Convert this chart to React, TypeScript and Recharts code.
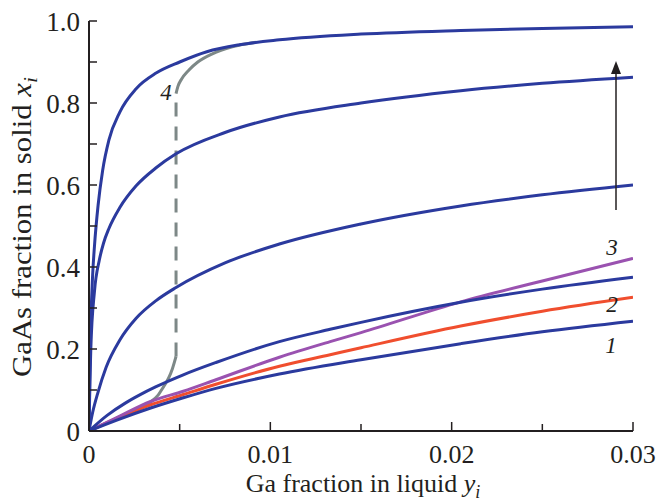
import React from 'react';
import { LineChart, Line, XAxis, YAxis } from 'recharts';

const INK = '#231f20';
const BLUE = '#2b3a9e';
const RED = '#f04e2e';
const PURPLE = '#9a52b0';
const GRAY = '#7d8887';
const FONT = 'Liberation Serif, Times New Roman, Times, serif';

const xTicks = [0, 0.005, 0.01, 0.015, 0.02, 0.025, 0.03];
const xTickLabels = ['0', '', '0.01', '', '0.02', '', '0.03'];
const yTicks = [0, 0.1, 0.2, 0.3, 0.4, 0.5, 0.6, 0.7, 0.8, 0.9, 1.0];
const yTickLabels = ['0', '', '0.2', '', '0.4', '', '0.6', '', '0.8', '', '1.0'];

// blue family, bottom to top (curve 1 is the lowest)
const curve1: [number, number][] = [
  [0, 0], [0.0015, 0.026], [0.0034, 0.056], [0.0052, 0.081], [0.007, 0.104],
  [0.0105, 0.139], [0.015, 0.174], [0.0205, 0.213], [0.025, 0.242], [0.03, 0.268],
];
const blue2: [number, number][] = [
  [0, 0], [0.001, 0.038], [0.002, 0.068], [0.0028, 0.088], [0.0037, 0.108],
  [0.0052, 0.137], [0.007, 0.167], [0.0105, 0.218], [0.0133, 0.248], [0.015, 0.265],
  [0.0205, 0.314], [0.025, 0.346], [0.03, 0.375],
];
const blue3: [number, number][] = [
  [0, 0], [0.0002, 0.045], [0.0005, 0.095], [0.00094, 0.155], [0.0017, 0.222],
  [0.0026, 0.275], [0.0037, 0.318], [0.0048, 0.35], [0.0075, 0.41], [0.0105, 0.456],
  [0.015, 0.505], [0.0205, 0.549], [0.025, 0.576], [0.03, 0.6],
];
const blue4: [number, number][] = [
  [0, 0], [0.00005, 0.12], [0.0001, 0.2], [0.0003, 0.34], [0.00057, 0.417],
  [0.0008, 0.458], [0.0011, 0.494], [0.0017, 0.545], [0.0026, 0.598], [0.0037, 0.642],
  [0.0048, 0.676], [0.0075, 0.728], [0.0105, 0.766], [0.015, 0.8], [0.0205, 0.83],
  [0.025, 0.848], [0.03, 0.863],
];
const blue5: [number, number][] = [
  [0, 0], [0.00005, 0.15], [0.0001, 0.26], [0.0002, 0.38], [0.0003, 0.45],
  [0.0005, 0.55], [0.00075, 0.635], [0.0011, 0.71], [0.0017, 0.778], [0.0026, 0.835],
  [0.0037, 0.873], [0.005, 0.9], [0.0065, 0.925], [0.0083, 0.942], [0.0105, 0.954],
  [0.015, 0.968], [0.0205, 0.977], [0.025, 0.982], [0.03, 0.986],
];
const curve2: [number, number][] = [
  [0, 0], [0.0015, 0.03], [0.0034, 0.064], [0.0052, 0.089], [0.007, 0.114],
  [0.0105, 0.158], [0.0133, 0.186], [0.015, 0.203], [0.0205, 0.256], [0.025, 0.292],
  [0.03, 0.326],
];
const curve3: [number, number][] = [
  [0, 0], [0.0015, 0.032], [0.0034, 0.072], [0.0052, 0.097], [0.007, 0.125],
  [0.0105, 0.18], [0.0133, 0.218], [0.015, 0.24], [0.0205, 0.315], [0.025, 0.366],
  [0.03, 0.421],
];
const curve4Low: [number, number][] = [
  [0, 0], [0.001, 0.02], [0.002, 0.041], [0.0028, 0.056], [0.0034, 0.071],
  [0.0038, 0.087], [0.0041, 0.107], [0.0044, 0.13], [0.0046, 0.152], [0.0048, 0.182],
];
const curve4Jump: [number, number][] = [[0.0048, 0.182], [0.0048, 0.823]];
const curve4High: [number, number][] = [
  [0.0048, 0.823], [0.0049, 0.84], [0.0051, 0.858], [0.0055, 0.88], [0.006, 0.9],
  [0.0068, 0.92], [0.0079, 0.937], [0.0092, 0.948],
];

const pts = (c: [number, number][]) => c.map(([x, y]) => ({ x, y }));

function BottomTick({ x, y, payload }: any) {
  const label = xTickLabels[xTicks.indexOf(payload.value)];
  return (
    <g>
      <line x1={x} x2={x} y1={y} y2={y - (label ? 9 : 7)} stroke={INK} strokeWidth={1.5} />
      {label && (
        <text x={x} y={y + 32} textAnchor="middle" fontSize={26} fontFamily={FONT} fill={INK}>
          {label}
        </text>
      )}
    </g>
  );
}

function TopTick({ x, y, payload }: any) {
  const major = xTickLabels[xTicks.indexOf(payload.value)] !== '';
  return <line x1={x} x2={x} y1={y} y2={y + (major ? 9 : 7)} stroke={INK} strokeWidth={1.5} />;
}

function LeftTick({ x, y, payload }: any) {
  const label = yTickLabels[yTicks.indexOf(payload.value)];
  return (
    <g>
      <line x1={x} x2={x + 8} y1={y} y2={y} stroke={INK} strokeWidth={1.5} />
      {label && (
        <text x={x - 9} y={y} dy="0.36em" textAnchor="end" fontSize={27} fontFamily={FONT} fill={INK}>
          {label}
        </text>
      )}
    </g>
  );
}

function RightTick({ x, y }: any) {
  return <line x1={x} x2={x - 8} y1={y} y2={y} stroke={INK} strokeWidth={1.5} />;
}

export default function App() {
  const lineProps = { type: 'monotone' as const, dataKey: 'y', dot: false, activeDot: false, isAnimationActive: false, strokeWidth: 3 };
  return (
    <div style={{ position: 'absolute', left: 0, top: 0, width: 660, height: 502, background: '#fff', fontFamily: FONT }}>
      <LineChart width={660} height={502} margin={{ top: 21, right: 27, bottom: 0, left: 0 }}>
        <XAxis
          dataKey="x"
          type="number"
          domain={[0, 0.03]}
          ticks={xTicks}
          interval={0}
          allowDataOverflow
          height={71}
          tickSize={0}
          tickMargin={0}
          tickLine={false}
          tick={<BottomTick />}
          axisLine={{ stroke: INK, strokeWidth: 2 }}
        />
        <XAxis
          xAxisId="top"
          orientation="top"
          dataKey="x"
          type="number"
          domain={[0, 0.03]}
          ticks={xTicks}
          interval={0}
          allowDataOverflow
          height={0}
          tickSize={0}
          tickMargin={0}
          tickLine={false}
          tick={<TopTick />}
          axisLine={{ stroke: INK, strokeWidth: 2 }}
        />
        <YAxis
          type="number"
          domain={[0, 1]}
          ticks={yTicks}
          interval={0}
          allowDataOverflow
          width={89}
          tickSize={0}
          tickMargin={0}
          tickLine={false}
          tick={<LeftTick />}
          axisLine={{ stroke: INK, strokeWidth: 2 }}
        />
        <YAxis
          yAxisId="right"
          orientation="right"
          type="number"
          domain={[0, 1]}
          ticks={yTicks}
          interval={0}
          allowDataOverflow
          width={0}
          tickSize={0}
          tickMargin={0}
          tickLine={false}
          tick={<RightTick />}
          axisLine={{ stroke: INK, strokeWidth: 2 }}
        />
        <Line {...lineProps} data={pts(curve4Low)} stroke={GRAY} />
        <Line {...lineProps} type="linear" data={pts(curve4Jump)} stroke={GRAY} strokeDasharray="14 10" />
        <Line {...lineProps} data={pts(curve4High)} stroke={GRAY} />
        <Line {...lineProps} data={pts(curve2)} stroke={RED} />
        <Line {...lineProps} data={pts(curve3)} stroke={PURPLE} />
        <Line {...lineProps} data={pts(curve1)} stroke={BLUE} />
        <Line {...lineProps} data={pts(blue2)} stroke={BLUE} />
        <Line {...lineProps} data={pts(blue3)} stroke={BLUE} />
        <Line {...lineProps} data={pts(blue4)} stroke={BLUE} />
        <Line {...lineProps} data={pts(blue5)} stroke={BLUE} />
      </LineChart>
      <svg width={660} height={502} style={{ position: 'absolute', left: 0, top: 0, pointerEvents: 'none' }}>
        <text
          transform="translate(31,227) rotate(-90)"
          textAnchor="middle"
          fontSize={27}
          fontFamily={FONT}
          fill={INK}
          textLength={300}
          lengthAdjust="spacingAndGlyphs"
        >
          GaAs fraction in solid <tspan fontStyle="italic">x</tspan>
          <tspan fontStyle="italic" fontSize={19} dy={6}>i</tspan>
        </text>
        <text x={363} y={492} textAnchor="middle" fontSize={26} fontFamily={FONT} fill={INK}>
          Ga fraction in liquid <tspan fontStyle="italic">y</tspan>
          <tspan fontStyle="italic" fontSize={18} dy={6}>i</tspan>
        </text>
        <g fontFamily={FONT} fontStyle="italic" fontSize={23} fill={INK} textAnchor="middle">
          <text x={166} y={100}>4</text>
          <text x={612} y={255}>3</text>
          <text x={612} y={312}>2</text>
          <text x={611} y={353}>1</text>
        </g>
        <line x1={616} x2={616} y1={210} y2={72} stroke={INK} strokeWidth={1.5} />
        <polygon points="616,61 611,74 621,74" fill={INK} />
      </svg>
    </div>
  );
}
